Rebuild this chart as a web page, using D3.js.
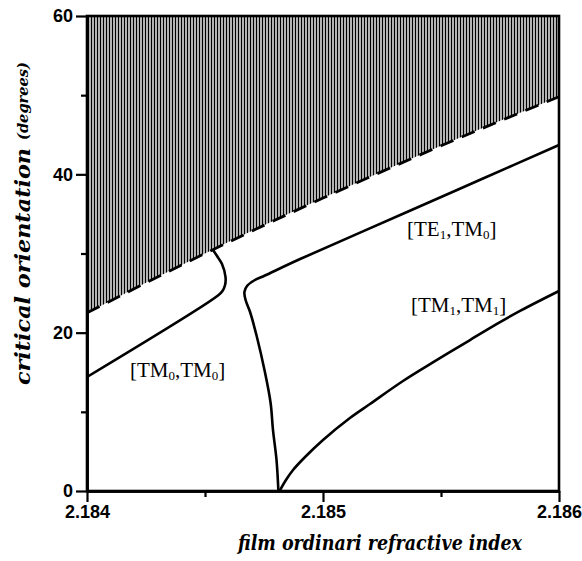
<!DOCTYPE html>
<html>
<head>
<meta charset="utf-8">
<script src="https://cdn.jsdelivr.net/npm/d3@7"></script>
<style>
  html, body { margin: 0; padding: 0; background: #fff; }
  svg { display: block; }
</style>
</head>
<body>
<svg id="chart" width="582" height="561"></svg>
<script>
// ---------------- data ----------------
const xTicks = [2.184, 2.185, 2.186];
const xMinorTicks = [2.1845, 2.1855];
const yTicks = [0, 20, 40, 60];
const yMinorTicks = [10, 30, 50];

// dashed boundary of hatched (forbidden) region
const boundaryX = [2.184, 2.1845, 2.185, 2.1855, 2.186];
const boundaryY = [22.5, 30.0, 37.0, 43.6, 49.8];

// [TM0,TM0] limit curve
const tm0X = [2.184000, 2.184555, 2.184574, 2.184585, 2.184587, 2.184572, 2.184551, 2.184534];
const tm0Y = [14.40, 24.69, 25.26, 26.02, 27.03, 28.67, 29.68, 30.44];

// [TE1,TM0] limit curve
const te1X = [2.184811, 2.184803, 2.184788, 2.184778, 2.184752, 2.184720, 2.184691, 2.184672,
              2.184667, 2.184678, 2.184708, 2.184754, 2.184903, 2.185356, 2.185678, 2.186000];
const te1Y = [0.00, 3.92, 7.71, 11.12, 15.28, 19.45, 22.61, 24.13,
              25.14, 25.89, 26.59, 27.22, 29.30, 35.24, 39.47, 43.70];

// [TM1,TM1] limit curve
const tm1X = [2.184816, 2.184843, 2.184873, 2.184924, 2.185000, 2.185114, 2.185199,
              2.185339, 2.185483, 2.185623, 2.185678, 2.185835, 2.186000];
const tm1Y = [0.00, 1.39, 2.65, 4.29, 6.44, 9.22, 10.99, 13.89, 16.55, 19.07, 20.08, 22.74, 25.26];

// region labels: [main, sub, main, sub, main]
const regionLabels = [
  ["[TM", "0", ",TM", "0", "]"],
  ["[TE", "1", ",TM", "0", "]"],
  ["[TM", "1", ",TM", "1", "]"]
];
const regionLabelX = [2.184182, 2.185356, 2.185373];
const regionLabelY = [14.4, 32.2, 22.6];

const xTitle = "film ordinari refractive index";
const yTitle = "critical orientation";
const yUnit = "(degrees)";

// ---------------- chart ----------------
(function () {
const svg = d3.select("#chart");
const pLeft = 87, pRight = 559, pTop = 16, pBottom = 491;

const x = d3.scaleLinear().domain([2.184, 2.186]).range([pLeft, pRight]);
const y = d3.scaleLinear().domain([0, 60]).range([pBottom, pTop]);

const defs = svg.append("defs");
const pat = defs.append("pattern")
  .attr("id", "hatch")
  .attr("patternUnits", "userSpaceOnUse")
  .attr("width", 3).attr("height", 8);
pat.append("line")
  .attr("x1", 1.5).attr("x2", 1.5).attr("y1", 0).attr("y2", 8)
  .attr("stroke", "#000").attr("stroke-width", 1.6);

const boundary = boundaryX.map((v, i) => ({x: v, y: boundaryY[i]}));

// hatched region
svg.append("path")
  .datum(boundary)
  .attr("d", d3.area().x(d => x(d.x)).y0(y(60)).y1(d => y(d.y)).curve(d3.curveMonotoneX))
  .attr("fill", "url(#hatch)");

// dashed boundary
svg.append("path")
  .datum(boundary)
  .attr("d", d3.line().x(d => x(d.x)).y(d => y(d.y)).curve(d3.curveMonotoneX))
  .attr("fill", "none")
  .attr("stroke", "#000")
  .attr("stroke-width", 2.8)
  .attr("stroke-dasharray", "14,9");

// curves
const lineGen = d3.line().x(d => x(d.x)).y(d => y(d.y)).curve(d3.curveCatmullRom.alpha(0.5));
function series(xs, ys) { return xs.map((v, i) => ({x: v, y: ys[i]})); }
[series(tm0X, tm0Y), series(te1X, te1Y), series(tm1X, tm1Y)].forEach(s => {
  svg.append("path")
    .datum(s)
    .attr("d", lineGen)
    .attr("fill", "none")
    .attr("stroke", "#000")
    .attr("stroke-width", 2.6)
    .attr("stroke-linejoin", "round");
});

// frame
svg.append("rect")
  .attr("x", pLeft).attr("y", pTop)
  .attr("width", pRight - pLeft).attr("height", pBottom - pTop)
  .attr("fill", "none").attr("stroke", "#000").attr("stroke-width", 2.6);

// axes
function styleAxis(g) {
  g.select(".domain").attr("stroke-width", 2.6);
  g.selectAll(".tick line").attr("stroke-width", 2.2);
  g.selectAll("text")
    .attr("font-family", "'Liberation Sans', Arial, sans-serif")
    .attr("font-weight", "bold")
    .attr("font-size", 18)
    .attr("fill", "#000");
}
svg.append("g").attr("transform", `translate(0,${pBottom})`)
  .call(d3.axisBottom(x).tickValues(xTicks).tickFormat(d3.format(".3f")).tickSize(11).tickSizeOuter(0).tickPadding(3))
  .call(styleAxis);
svg.append("g").attr("transform", `translate(0,${pBottom})`)
  .call(d3.axisBottom(x).tickValues(xMinorTicks).tickFormat("").tickSize(6).tickSizeOuter(0))
  .call(styleAxis);
svg.append("g").attr("transform", `translate(${pLeft},0)`)
  .call(d3.axisLeft(y).tickValues(yTicks).tickFormat(d3.format("d")).tickSize(11).tickSizeOuter(0).tickPadding(3))
  .call(styleAxis);
svg.append("g").attr("transform", `translate(${pLeft},0)`)
  .call(d3.axisLeft(y).tickValues(yMinorTicks).tickFormat("").tickSize(6).tickSizeOuter(0))
  .call(styleAxis);

// region labels
regionLabels.forEach((parts, i) => {
  const t = svg.append("text")
    .attr("x", x(regionLabelX[i])).attr("y", y(regionLabelY[i]))
    .attr("font-family", "'Liberation Serif', 'Times New Roman', serif")
    .attr("font-size", 21)
    .attr("fill", "#000");
  parts.forEach((p, j) => {
    const sub = j % 2 === 1;
    t.append("tspan")
      .attr("font-size", sub ? 13 : 21)
      .attr("dy", sub ? 3 : (j > 0 ? -3 : 0))
      .text(p);
  });
});

// axis titles
const xt = svg.append("text")
  .attr("x", 238).attr("y", 550)
  .attr("font-family", "'DejaVu Serif', serif")
  .attr("font-style", "italic").attr("font-weight", "bold")
  .attr("font-size", 20)
  .attr("textLength", 284)
  .attr("lengthAdjust", "spacingAndGlyphs")
  .text(xTitle);

const yg = svg.append("g").attr("transform", "translate(30,0) rotate(-90)");
yg.append("text")
  .attr("x", -385).attr("y", 0)
  .attr("font-family", "'DejaVu Serif', serif")
  .attr("font-style", "italic").attr("font-weight", "bold")
  .attr("font-size", 21)
  .attr("textLength", 237)
  .attr("lengthAdjust", "spacingAndGlyphs")
  .text(yTitle);
yg.append("text")
  .attr("x", -140).attr("y", -2)
  .attr("font-family", "'DejaVu Serif', serif")
  .attr("font-style", "italic").attr("font-weight", "bold")
  .attr("font-size", 14)
  .attr("textLength", 78)
  .attr("lengthAdjust", "spacingAndGlyphs")
  .text(yUnit);
})();
</script>
</body>
</html>
